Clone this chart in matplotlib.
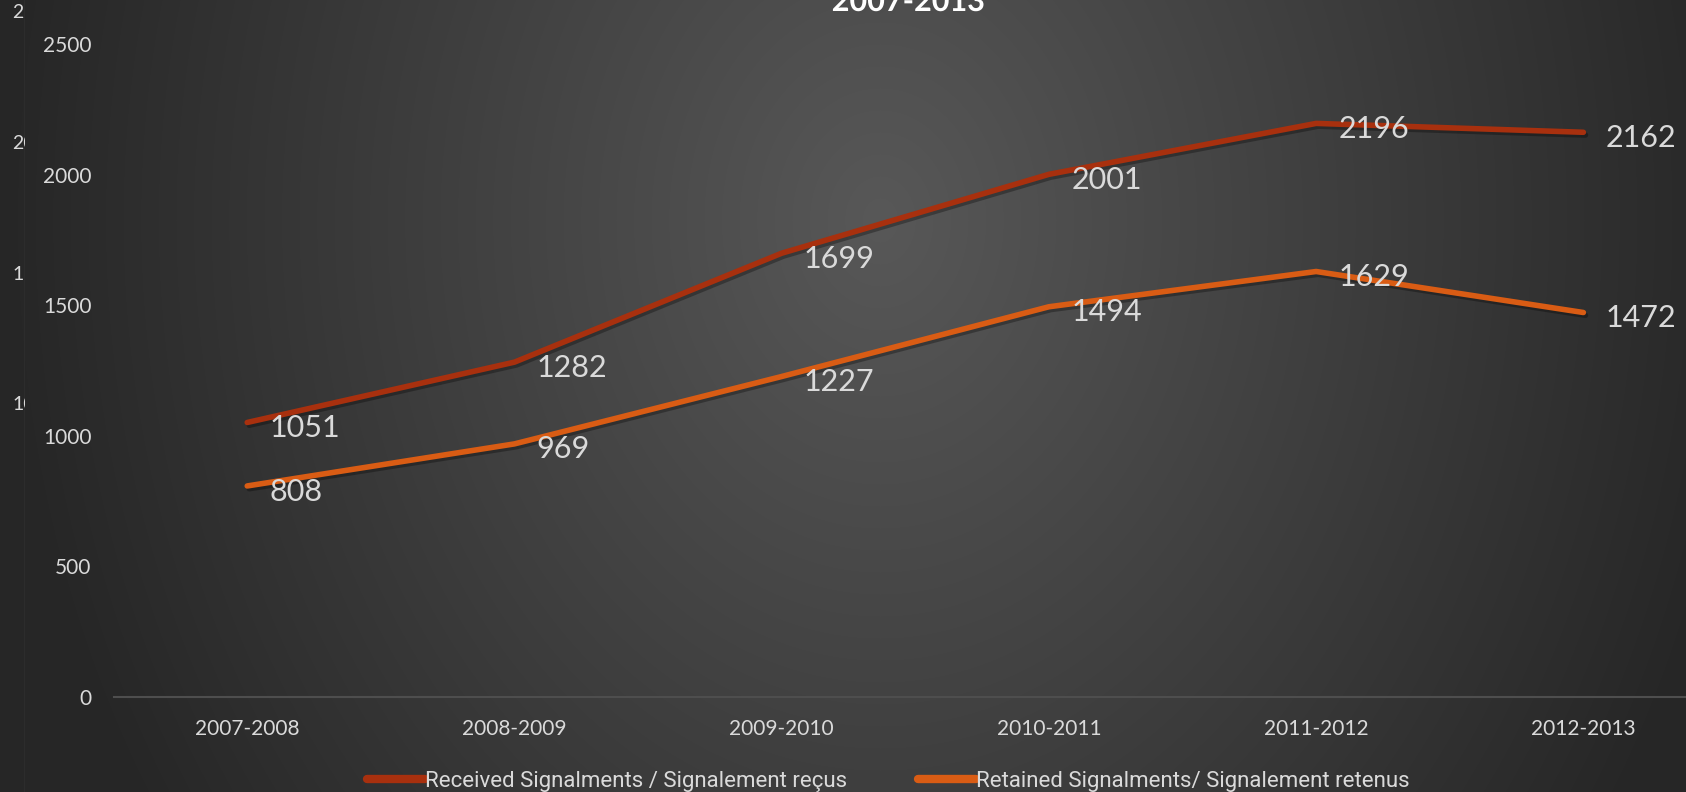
import numpy as np
import matplotlib
matplotlib.use("Agg")
import matplotlib.pyplot as plt
import matplotlib.patheffects as pe

# Daten
periods = ["2007-2008", "2008-2009", "2009-2010", "2010-2011", "2011-2012", "2012-2013"]
received = [1051, 1282, 1699, 2001, 2196, 2162]
retained = [808, 969, 1227, 1494, 1629, 1472]
yticks = [0, 500, 1000, 1500, 2000, 2500]
ghost_labels = ["2", "20", "1", "10"]

label_received = "Received Signalments / Signalement reçus"
label_retained = "Retained Signalments/ Signalement retenus"
title = "2007-2013"

c_received = "#A8300E"
c_retained = "#D95C14"
c_text = "#DADADA"

plt.rcParams["font.family"] = ["Lato", "DejaVu Sans"]

W, H = 1686, 792
fig = plt.figure(figsize=(W / 100, H / 100), dpi=100)

# Hintergrund: radialer Verlauf
bg = fig.add_axes([0, 0, 1, 1], zorder=-10)
xx, yy = np.meshgrid(np.arange(W), np.arange(H))
r = np.sqrt(((xx - 880) / 880.0) ** 2 + ((yy - 220) / 1100.0) ** 2)
t = np.clip(1 - r, 0, 1)
v = (38 + 50 * t) / 255.0
bg.imshow(np.dstack([v, v, v]), aspect="auto", extent=[0, 1, 0, 1])
bg.set_xlim(0, 1)
bg.set_ylim(0, 1)
bg.axis("off")

# Reste eines anderen Diagramms am linken Rand
ga = fig.add_axes([0, 0, 25 / W, 1], zorder=-5)
ga.set_xlim(0, 25)
ga.set_ylim(H, 0)
ga.axis("off")
for i, s in enumerate(ghost_labels):
    ga.text(12, 13 + i * 130.5, s, color=c_text, fontsize=14, va="center",
            ha="left", clip_on=True)
ga.axvline(24, color="#2E2E2E", lw=0.6)

# Hauptdiagramm
ax = fig.add_axes([113.6 / W, 1 - 697 / H, (1717 - 113.6) / W, 653 / H])
ax.set_facecolor("none")
x = np.arange(len(periods))
shadow = [pe.SimpleLineShadow(offset=(1.5, -2), alpha=0.3, shadow_color="black"), pe.Normal()]
l1, = ax.plot(x, received, color=c_received, lw=4, solid_capstyle="round",
              solid_joinstyle="round", path_effects=shadow, label=label_received)
l2, = ax.plot(x, retained, color=c_retained, lw=4, solid_capstyle="round",
              solid_joinstyle="round", path_effects=shadow, label=label_retained)

for xi, yi in zip(x, received):
    ax.annotate(str(yi), (xi, yi), xytext=(16, -4), textcoords="offset points",
                color=c_text, fontsize=22, va="center", ha="left")
for xi, yi in zip(x, retained):
    ax.annotate(str(yi), (xi, yi), xytext=(16, -4), textcoords="offset points",
                color=c_text, fontsize=22, va="center", ha="left")

ax.set_xlim(-0.5, len(periods) - 0.5)
ax.set_ylim(0, 2500)
ax.set_xticks(x)
ax.set_xticklabels(periods)
ax.set_yticks(yticks)
ax.tick_params(axis="both", length=0, colors=c_text, labelsize=15)
ax.tick_params(axis="y", pad=16)
ax.tick_params(axis="x", pad=16)
for side in ["top", "right", "left"]:
    ax.spines[side].set_visible(False)
ax.spines["bottom"].set_color("#4E4E4E")
ax.spines["bottom"].set_linewidth(1.5)

# Titel (oben abgeschnitten, wie im Original)
fig.text(908 / W, 1 - 11 / H, title, color="white", fontsize=22, fontweight="bold",
         ha="center", va="baseline",
         path_effects=[pe.withSimplePatchShadow(offset=(1.5, -1.5), alpha=0.6)])

leg = fig.legend(handles=[l1, l2], loc="center", bbox_to_anchor=(888 / W, 1 - 781 / H),
                 ncol=2, frameon=False, handlelength=2.6, handletextpad=0.0,
                 columnspacing=3.2, prop={"family": ["Roboto", "DejaVu Sans"], "size": 16})
for h in leg.get_lines():
    h.set_linewidth(6)
    h.set_solid_capstyle("round")
    h.set_path_effects([])
for txt in leg.get_texts():
    txt.set_color(c_text)

fig.savefig("out.png", dpi=100)
